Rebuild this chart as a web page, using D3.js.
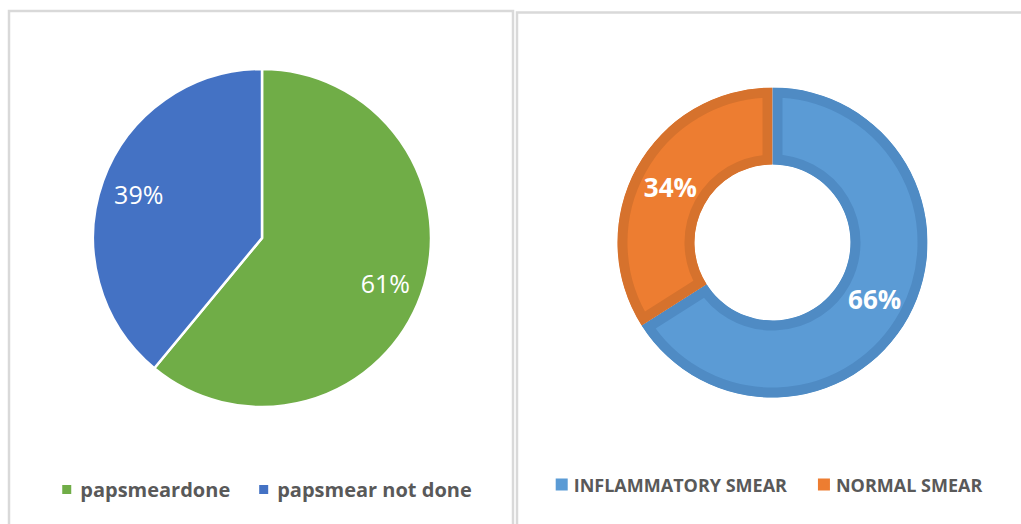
<!DOCTYPE html>
<html>
<head>
<meta charset="utf-8">
<script src="https://cdn.jsdelivr.net/npm/d3@7"></script>
<style>
  body { margin: 0; background: #fff; }
  svg { display: block; }
</style>
</head>
<body>
<svg id="chart" width="1021" height="524"></svg>
<script>
// left chart: pap smear done / not done
var pieLabels = ["papsmeardone", "papsmear not done"];
var pieValues = [61, 39];
var pieColors = ["#70AD47", "#4472C4"];

// right chart: smear result
var donutLabels = ["INFLAMMATORY SMEAR", "NORMAL SMEAR"];
var donutValues = [66, 34];
var donutColors = ["#5B9BD5", "#ED7D31"];
var donutBorders = ["#4F8BC4", "#D6722D"];

var svg = d3.select("#chart");
var textGray = "#595959";

// panel frames
svg.append("rect")
  .attr("x", 9).attr("y", 11).attr("width", 504).attr("height", 540)
  .style("fill", "none").style("stroke", "#d9d9d9").style("stroke-width", 2.5);
svg.append("rect")
  .attr("x", 517).attr("y", 12.5).attr("width", 540).attr("height", 540)
  .style("fill", "none").style("stroke", "#d9d9d9").style("stroke-width", 2.5);

var pie = d3.pie().sort(null).value(function(d) { return d; });

function drawPie() {
  var cx = 262, cy = 238, radius = 169;
  var g = svg.append("g").attr("transform", "translate(" + cx + "," + cy + ")");
  var arc = d3.arc().innerRadius(0).outerRadius(radius);
  var labelArc = d3.arc().innerRadius(131).outerRadius(131);
  var slices = pie(pieValues);

  g.selectAll("path.slice")
    .data(slices)
    .enter().append("path")
    .attr("class", "slice")
    .attr("d", arc)
    .style("fill", function(d, i) { return pieColors[i]; })
    .style("stroke", "#fff")
    .style("stroke-width", 2.5);

  g.selectAll("text.lbl")
    .data(slices)
    .enter().append("text")
    .attr("class", "lbl")
    .attr("transform", function(d) { return "translate(" + labelArc.centroid(d) + ")"; })
    .attr("text-anchor", "middle")
    .attr("dy", "0.42em")
    .style("font-family", "'Open Sans', sans-serif")
    .style("font-size", "25px")
    .style("fill", "#fff")
    .text(function(d, i) { return pieValues[i] + "%"; });
}

function drawDonut() {
  var cx = 772.5, cy = 242.5, outer = 155, inner = 78, border = 10;
  var g = svg.append("g").attr("transform", "translate(" + cx + "," + cy + ")");
  var arc = d3.arc().innerRadius(inner).outerRadius(outer);
  var slices = pie(donutValues);

  // clip each slice to itself so the border sits inside it
  g.selectAll("clipPath")
    .data(slices)
    .enter().append("clipPath")
    .attr("id", function(d, i) { return "clip" + i; })
    .append("path")
    .attr("d", arc);

  g.selectAll("path.slice")
    .data(slices)
    .enter().append("path")
    .attr("class", "slice")
    .attr("d", arc)
    .attr("clip-path", function(d, i) { return "url(#clip" + i + ")"; })
    .style("fill", function(d, i) { return donutColors[i]; })
    .style("stroke", function(d, i) { return donutBorders[i]; })
    .style("stroke-width", border * 2)
    .style("stroke-linejoin", "miter");

  g.selectAll("text.lbl")
    .data(slices)
    .enter().append("text")
    .attr("class", "lbl")
    .attr("transform", function(d) { return "translate(" + arc.centroid(d) + ")"; })
    .attr("text-anchor", "middle")
    .attr("dy", "0.4em")
    .style("font-family", "'Open Sans', sans-serif")
    .style("font-weight", "bold")
    .style("font-size", "26px")
    .style("fill", "#fff")
    .text(function(d, i) { return donutValues[i] + "%"; });
}

// legend laid out from measured text widths, centred on centerX
function drawLegend(labels, colors, centerX, baseY, box, gapBox, gapItem, font) {
  var g = svg.append("g");
  var items = labels.map(function(label, i) {
    var item = g.append("g");
    item.append("rect")
      .attr("width", box).attr("height", box)
      .attr("y", baseY - font.cap / 2 - box / 2 - 1)
      .style("fill", colors[i]);
    var t = item.append("text")
      .attr("x", box + gapBox).attr("y", baseY)
      .style("font-family", font.family)
      .style("font-weight", "bold")
      .style("font-size", font.size + "px")
      .style("fill", textGray)
      .text(label);
    return { node: item, width: box + gapBox + t.node().getComputedTextLength() };
  });
  var total = d3.sum(items, function(d) { return d.width; }) + gapItem * (items.length - 1);
  var x = centerX - total / 2;
  items.forEach(function(d) {
    d.node.attr("transform", "translate(" + x + ",0)");
    x += d.width + gapItem;
  });
}

drawPie();
drawDonut();
drawLegend(pieLabels, pieColors, 267, 497, 9, 9, 29,
  { family: "'Open Sans', sans-serif", size: 20, cap: 13 });
drawLegend(donutLabels, donutColors, 769, 492, 12, 6, 31,
  { family: "'Open Sans', sans-serif", size: 18, cap: 13 });
</script>
</body>
</html>
